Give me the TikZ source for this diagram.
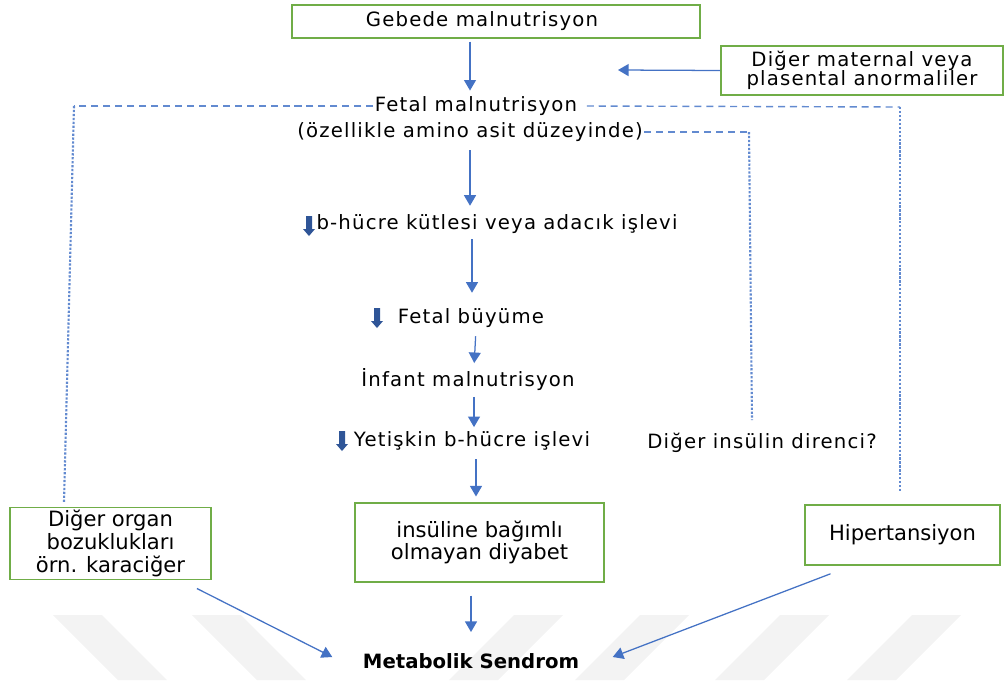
\documentclass[tikz,border=0pt]{standalone}
\usepackage{fontspec}
\setmainfont{DejaVu Sans}
\usetikzlibrary{arrows.meta,calc}
\definecolor{boxgreen}{RGB}{112,173,71}
\definecolor{flowblue}{RGB}{68,114,196}
\definecolor{lineblue}{RGB}{98,138,208}
\definecolor{markblue}{RGB}{47,85,151}
\definecolor{markgray}{RGB}{243,243,243}
\newcommand{\widetext}{\fontsize{14}{16}\selectfont\addfontfeatures{LetterSpace=6}}
\newcommand{\boxtext}{\fontsize{15}{16.3}\selectfont}
\tikzset{
 greenbox/.style={draw=boxgreen, line width=1.1pt, align=center, inner sep=2pt},
 flow/.style={draw=flowblue, line width=0.9pt, -{Triangle[width=8.5pt,length=7.5pt]}},
 dashline/.style={draw=lineblue, line width=1pt, dash pattern=on 5pt off 3.5pt},
 dotline/.style={draw=lineblue, line width=1.5pt, dash pattern=on 1.6pt off 1.2pt},
 steptext/.style={font=\widetext, inner sep=1pt},
}

\begin{document}
\begin{tikzpicture}[x=0.025cm, y=-0.025cm]
    \useasboundingbox (0,0) rectangle (1004,680);
    % watermark bands
    \foreach \a/\b in {53/118, 192/257} {
        \fill[markgray] (\a,615) -- (\a+49,615) -- (\b+49,680) -- (\b,680) -- cycle;
    }
    \foreach \a/\b in {514/449, 640/575, 780/715, 912/847} {
        \fill[markgray] (\a,615) -- (\a+49,615) -- (\b+49,680) -- (\b,680) -- cycle;
    }

    % boxes
    \node[greenbox, font=\widetext, minimum width=10.2cm, minimum height=0.83cm] (gebede) at (496,21.5) {Gebede malnutrisyon\hspace*{0.7cm}};
    \node[greenbox, font=\widetext\fontsize{14}{13.8}\selectfont, minimum width=7.05cm, minimum height=1.23cm] (maternal) at (862,70.5) {Diğer maternal veya\\plasental anormaliler};
    \node[greenbox, font=\boxtext, minimum width=5.03cm, minimum height=1.78cm] (organ) at (110.5,543.5) {Diğer organ\\bozuklukları\\örn. karaciğer};
    \node[greenbox, font=\fontsize{15}{14.5}\selectfont, minimum width=6.22cm, minimum height=1.98cm] (diabetes) at (479.5,542.5) {insüline bağımlı\\olmayan diyabet};
    \node[greenbox, font=\boxtext, minimum width=4.88cm, minimum height=1.5cm] (hyper) at (902.5,535) {Hipertansiyon};

    % steps
    \node[steptext] (fetal) at (476,106) {Fetal malnutrisyon};
    \node[steptext] (amino) at (470,132) {(özellikle amino asit düzeyinde)};
    \node[steptext] (bcell) at (497,224) {b-hücre kütlesi veya adacık işlevi};
    \node[steptext] (growth) at (471,318) {Fetal büyüme};
    \node[steptext] (infant) at (468,380) {İnfant malnutrisyon};
    \node[steptext] (adult) at (472,441) {Yetişkin b-hücre işlevi};
    \node[steptext] (resist) at (762,443) {Diğer insülin direnci?};
    \node[font=\fontsize{14}{16}\selectfont\bfseries, inner sep=1pt] (metab) at (471,661) {Metabolik Sendrom};

    % decrease marks
    \foreach \x/\y in {309/226, 377/318, 342/441} {
        \fill[markblue] (\x-3,\y-10) -- (\x+3,\y-10) -- (\x+3,\y+3) -- (\x+6,\y+3)
            -- (\x,\y+10) -- (\x-6,\y+3) -- (\x-3,\y+3) -- cycle;
    }

    % main flow
    \coordinate (matend) at (618,70);
    \draw[flow] (maternal.west) -- (matend);
    \draw[flow, shorten <=2pt, shorten >=3pt] (gebede.south -| amino) -- (fetal.north -| amino);
    \draw[flow, shorten <=5pt, shorten >=5pt] (amino.south) -- (bcell.north -| amino);
    \draw[flow, shorten <=3pt, shorten >=10pt] (bcell.south -| 472,0) -- (growth.north -| 472,0);
    \draw[flow, shorten <=5pt, shorten >=3pt] (growth.south -| 476,0) -- (infant.north -| 474,0);
    \draw[flow, shorten <=3pt, shorten >=2pt] (infant.south -| 474,0) -- (adult.north -| 474,0);
    \draw[flow, shorten <=5pt, shorten >=4pt] (adult.south -| 476,0) -- (diabetes.north -| 476,0);
    \draw[flow, shorten <=9pt, shorten >=14pt] (diabetes.south -| metab) -- (metab.north);
    \draw[flow] ($(organ.south east)+(-15,8)$) -- ($(metab.west)+(-29,-4)$);
    \draw[flow] ($(hyper.south)+(-72,8)$) -- ($(metab.east)+(32,-4)$);

    % side links
    \coordinate (lt) at (74,106);
    \coordinate (lb) at (64,502);
    \coordinate (rt) at (900,107);
    \coordinate (rb) at (900,492);
    \coordinate (mt) at (749,132);
    \coordinate (mb) at (752,420);
    \draw[dashline] (fetal.west) -- (lt);
    \draw[dotline] (lt) -- (lb);
    \draw[dashline] ($(fetal.east)+(8,0)$) -- (rt);
    \draw[dotline] (rt) -- (rb);
    \draw[dashline] (amino.east) -- (mt);
    \draw[dotline] (mt) -- (mb);
\end{tikzpicture}
\end{document}
